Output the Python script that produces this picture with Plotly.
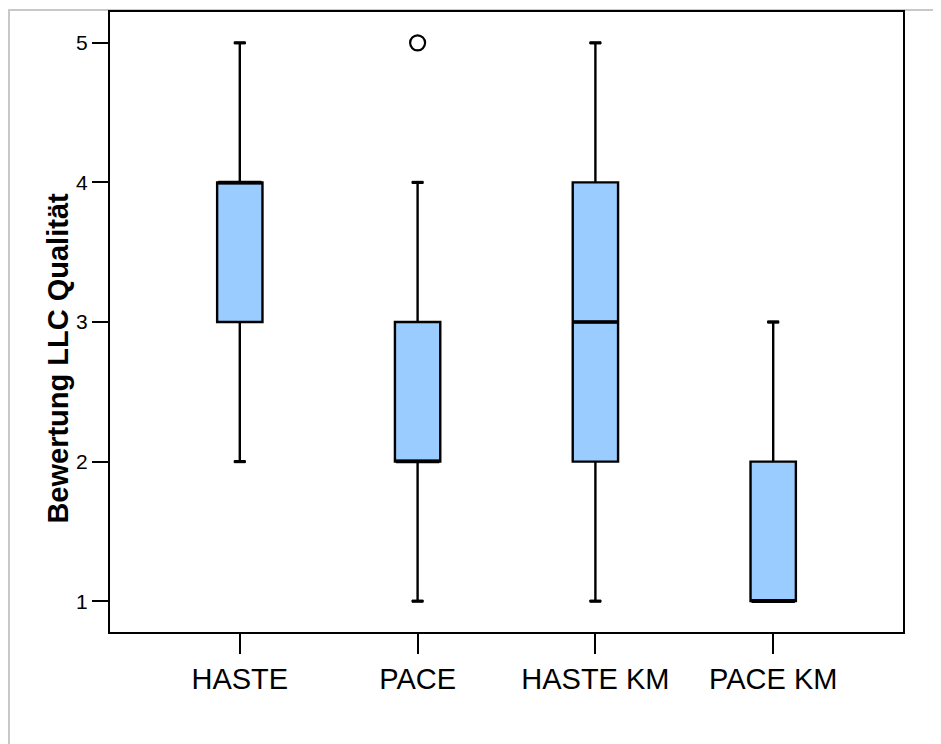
import plotly.graph_objects as go

categories = ["HASTE", "PACE", "HASTE KM", "PACE KM"]
lower_whisker = [2, 1, 1, 1]
q1_values = [3, 2, 2, 1]
median_values = [4, 2, 3, 1]
q3_values = [4, 3, 4, 2]
upper_whisker = [5, 4, 5, 3]
outlier_cats = ["PACE"]
outlier_values = [5]
y_ticks = [1, 2, 3, 4, 5]
y_title = "Bewertung LLC Qualität"

fig = go.Figure()
fig.add_trace(go.Box(
    x=categories, q1=q1_values, median=median_values, q3=q3_values,
    lowerfence=lower_whisker, upperfence=upper_whisker,
    fillcolor="#9ACCFF", line=dict(color="black", width=2.4),
    width=0.255, whiskerwidth=0.27, boxpoints=False, hoverinfo="skip",
    showlegend=False,
))
# thicker median lines
fig.add_trace(go.Scatter(
    x=categories, y=median_values, mode="markers",
    marker=dict(symbol="line-ew", size=31, line=dict(color="black", width=3.5)),
    showlegend=False, hoverinfo="skip",
))
# thicker whisker caps
fig.add_trace(go.Scatter(
    x=categories + categories, y=lower_whisker + upper_whisker, mode="markers",
    marker=dict(symbol="line-ew", size=8, line=dict(color="black", width=3.2)),
    showlegend=False, hoverinfo="skip",
))
fig.add_trace(go.Scatter(
    x=outlier_cats, y=outlier_values, mode="markers",
    marker=dict(symbol="circle-open", size=15, color="black", line=dict(color="black", width=2.2)),
    showlegend=False, hoverinfo="skip",
))

fig.update_layout(
    width=941, height=744,
    margin=dict(l=102, r=46, t=2, b=120),
    paper_bgcolor="white", plot_bgcolor="white",
    font=dict(family="Liberation Sans, Arial, sans-serif", color="black"),
    xaxis=dict(
        type="category", range=[-0.73, 3.73],
        showline=True, linecolor="black", linewidth=2, mirror=True,
        ticks="outside", ticklen=20, tickwidth=2.4, tickcolor="black",
        tickfont=dict(size=29), showgrid=False, zeroline=False,
    ),
    yaxis=dict(
        range=[0.779, 5.221], tickvals=y_ticks,
        showline=True, linecolor="black", linewidth=2, mirror=True,
        ticks="outside", ticklen=16, tickwidth=2.4, tickcolor="black",
        tickfont=dict(size=21), showgrid=False, zeroline=False,
    ),
    annotations=[dict(text="<b>" + y_title + "</b>", xref="paper", yref="paper",
                      x=-0.066, y=0.442, xanchor="center", yanchor="middle",
                      textangle=-90, showarrow=False,
                      font=dict(size=29, family="Liberation Sans, Arial"))],
    shapes=[dict(type="rect", xref="paper", yref="paper",
                 x0=-0.1274, x1=1.2, y0=-0.3, y1=1.0032,
                 line=dict(color="#C8C8C8", width=2), layer="below")],
)

fig.write_html("out.html")
